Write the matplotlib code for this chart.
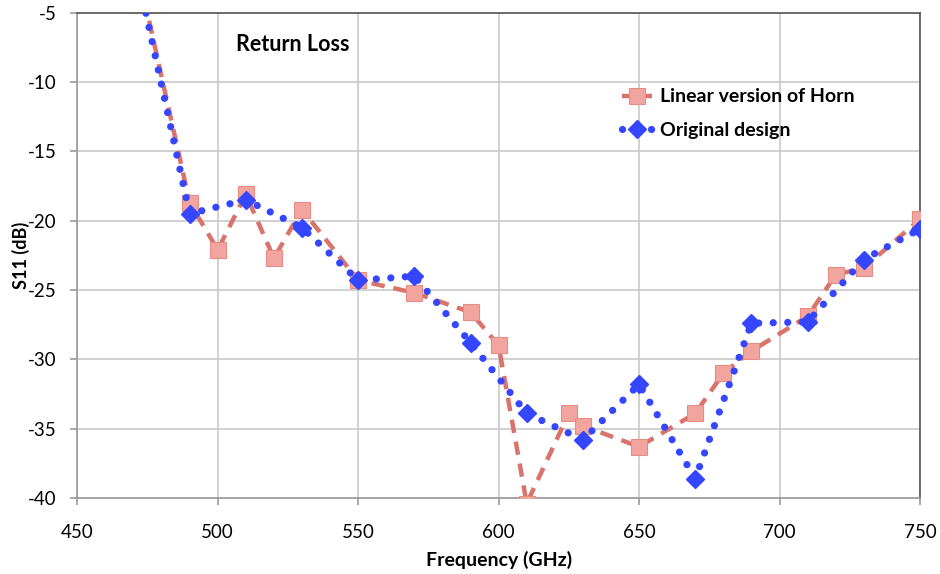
import matplotlib.pyplot as plt

plt.rcParams["font.family"] = ["Lato", "DejaVu Sans"]
plt.rcParams["axes.unicode_minus"] = False

# Linear version of Horn
freq_linear = [470, 490, 500, 510, 520, 530, 550, 570, 590, 600, 610, 625,
               630, 650, 670, 680, 690, 710, 720, 730, 750]
s11_linear = [-0.5, -18.7, -22.1, -18.1, -22.7, -19.2, -24.3, -25.2, -26.6,
              -29.0, -40.4, -33.9, -34.8, -36.3, -33.9, -31.0, -29.4, -26.9,
              -23.9, -23.4, -19.9]

# Original design
freq_orig = [470, 490, 510, 530, 550, 570, 590, 610, 630, 650, 670, 690,
             710, 730, 750]
s11_orig = [-0.9, -19.5, -18.5, -20.5, -24.3, -24.0, -28.8, -33.9, -35.8,
            -31.8, -38.6, -27.4, -27.3, -22.8, -20.6]

x_ticks = [450, 500, 550, 600, 650, 700, 750]
y_ticks = [-5, -10, -15, -20, -25, -30, -35, -40]

fig = plt.figure(figsize=(9.4, 5.74), dpi=100)
ax = fig.add_axes([0.0822, 0.1324, 0.8965, 0.8455])

ax.plot(freq_linear, s11_linear, color="#d9736c", linestyle=(0, (3, 2)),
        linewidth=3.2, marker="s", markersize=11, markerfacecolor="#f2a59e",
        markeredgecolor="#e58c85", markeredgewidth=0.8,
        label="Linear version of Horn", zorder=3)
ax.plot(freq_orig, s11_orig, color="#3446ff", linestyle=(0, (0.01, 2.0)),
        linewidth=5.2, dash_capstyle="round", solid_capstyle="round",
        marker="D", markersize=9, markerfacecolor="#3446ff",
        markeredgecolor="#3446ff", label="Original design", zorder=4)

ax.set_xlim(450, 750)
ax.set_ylim(-40, -5)
ax.set_xticks(x_ticks)
ax.set_yticks(y_ticks)
ax.grid(True, color="#c9c9c9", linewidth=1.2)
ax.set_axisbelow(True)

for side in ["left", "bottom"]:
    ax.spines[side].set_color("#9a9a9a")
    ax.spines[side].set_linewidth(1.2)
for side in ["top", "right"]:
    ax.spines[side].set_color("#555555")
    ax.spines[side].set_linewidth(1.2)

ax.tick_params(axis="both", colors="#9a9a9a", labelcolor="black",
               labelsize=13.5, length=5, width=1.2, direction="out")
ax.tick_params(axis="x", pad=14)
ax.tick_params(axis="y", pad=10)

ax.set_xlabel("Frequency (GHz)", fontsize=14, fontweight="bold")
ax.set_ylabel("S11 (dB)", fontsize=13, fontweight="bold")
ax.xaxis.set_label_coords(0.5, -0.108)
ax.yaxis.set_label_coords(-0.056, 0.5)

ax.text(0.188, 0.934, "Return Loss", transform=ax.transAxes, fontsize=15.5,
        fontweight="bold", va="center", ha="left")

leg = ax.legend(loc="upper left", bbox_to_anchor=(0.637, 0.86), frameon=False,
                fontsize=14, handlelength=1.55, handletextpad=0.4,
                labelspacing=0.85, borderaxespad=0)
for t in leg.get_texts():
    t.set_fontweight("bold")

fig.savefig("out.png", dpi=100, facecolor="white")
